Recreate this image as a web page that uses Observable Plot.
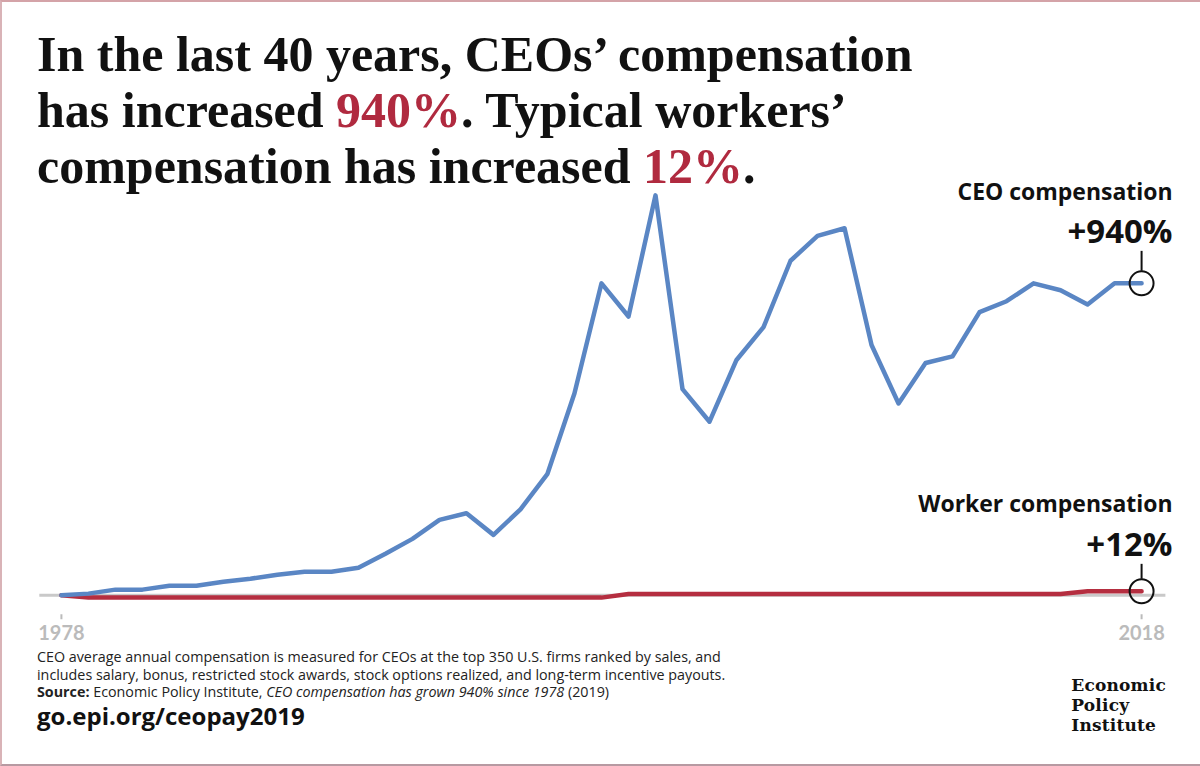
<!DOCTYPE html>
<html>
<head>
<meta charset="utf-8">
<script src="https://cdn.jsdelivr.net/npm/d3@7"></script>
<script src="https://cdn.jsdelivr.net/npm/@observablehq/plot@0.6"></script>
<style>
  html, body { margin: 0; padding: 0; background: #fff; }
  #page { position: relative; width: 1200px; height: 766px; overflow: hidden; background: #fff;
          box-sizing: border-box; border-top: 2px solid #d4a3a8; border-left: 2px solid #d9b3b7; border-bottom: 2px solid #b79aa2; }
  .title { position: absolute; left: 35px; top: 24px; font-family: "Liberation Serif", serif; font-weight: bold;
           font-size: 50px; line-height: 56px; color: #111; white-space: nowrap; }
  .title .hl { color: #b02a3f; }
  #chart { position: absolute; left: -2px; top: 168px; }
  .note { position: absolute; left: 35px; top: 646px; font-family: "Open Sans", sans-serif; font-size: 14.3px; line-height: 17.5px; color: #222; white-space: nowrap; }
  .url { position: absolute; left: 35px; top: 698px; font-family: "Open Sans", sans-serif; font-weight: bold; font-size: 24px; line-height: 32px; color: #111; }
  .logo { position: absolute; right: 34px; top: 673px; font-family: "DejaVu Serif", serif; font-weight: bold; font-size: 17px; line-height: 20px; color: #111; letter-spacing: 0.2px; }
</style>
</head>
<body>
<div id="page">
  <div class="title">In the last 40 years, CEOs’ compensation<br>has increased <span class="hl">940%</span>. Typical workers’<br>compensation has increased <span class="hl">12%</span>.</div>
  <div id="chart"></div>
  <div class="note">CEO average annual compensation is measured for CEOs at the top 350 U.S. firms ranked by sales, and<br>includes salary, bonus, restricted stock awards, stock options realized, and long-term incentive payouts.<br><b>Source:</b> Economic Policy Institute, <i>CEO compensation has grown 940% since 1978</i> (2019)</div>
  <div class="url">go.epi.org/ceopay2019</div>
  <div class="logo">Economic<br>Policy<br>Institute</div>
</div>
<script>
// Years 1978–2018
const years = [1978,1979,1980,1981,1982,1983,1984,1985,1986,1987,1988,1989,1990,1991,1992,1993,1994,1995,1996,1997,1998,
               1999,2000,2001,2002,2003,2004,2005,2006,2007,2008,2009,2010,2011,2012,2013,2014,2015,2016,2017,2018];
// Cumulative % change since 1978, CEO compensation
const ceoGrowth = [0,5,17,17,29,29,41,50,62,71,71,83,125,170,227,247,182,259,366,609,940,
                   840,1205,621,523,709,808,1008,1083,1106,754,578,700,720,853,886,940,919,876,940,940];
// Cumulative % change since 1978, typical worker compensation
const workerGrowth = [0,-7,-7,-7,-7,-7,-7,-7,-7,-7,-7,-7,-7,-7,-7,-7,-7,-7,-7,-7,-7,
                      4,4,4,4,4,4,4,4,4,4,4,4,4,4,4,4,4,12,12,12];
const xTicks = [1978, 2018];
const seriesNames = ["CEO compensation", "Worker compensation"];
const endLabels = ["+940%", "+12%"];

const ceo = years.map((year, i) => ({year, value: ceoGrowth[i]}));
const worker = years.map((year, i) => ({year, value: workerGrowth[i]}));
const last = years.length - 1;
const ends = [
  {year: years[last], value: ceoGrowth[last], name: seriesNames[0], label: endLabels[0]},
  {year: years[last], value: workerGrowth[last], name: seriesNames[1], label: endLabels[1]}
];
const ceoEnd = [ends[0]];
const workerEnd = [ends[1]];

const blue = "#5a86c4";
const red = "#b52e40";
const font = "'Open Sans', sans-serif";

function endLabelMarks(rows, nameDy, valueDy) {
  return [
    Plot.text(rows, {x: "year", y: "value", text: "label", dx: 31, dy: valueDy, textAnchor: "end", fontSize: 33, fontWeight: "bold",
                     fontFamily: font, fill: "#111", lineAnchor: "bottom"}),
    Plot.text(rows, {x: "year", y: "value", text: "name", dx: 31, dy: nameDy, textAnchor: "end", fontSize: 23, fontWeight: "bold",
                     fontFamily: font, fill: "#111", lineAnchor: "bottom"})
  ];
}

const chart = Plot.plot({
  width: 1202,
  height: 490,
  marginLeft: 61,
  marginRight: 59,
  marginTop: 0,
  marginBottom: 45,
  style: {background: "transparent", overflow: "visible"},
  x: {domain: [1978, 2018], label: null},
  y: {domain: [0, 940], range: [425.5, 113], axis: null, label: null},
  marks: [
    Plot.ruleY([0], {x1: 1977.2, x2: 2018.9, stroke: "#c9c9c9", strokeWidth: 3}),
    Plot.lineY(worker, {x: "year", y: "value", stroke: red, strokeWidth: 4.5, curve: "linear"}),
    Plot.lineY(ceo, {x: "year", y: "value", stroke: blue, strokeWidth: 4.5, curve: "linear"}),
    Plot.dot(ends, {x: "year", y: "value", r: 12, stroke: "#111", strokeWidth: 2, fill: "none"}),
    Plot.ruleX(ceoEnd, {x: "year", y1: "value", y2: "value", insetTop: -32, insetBottom: 12, stroke: "#111", strokeWidth: 2}),
    Plot.ruleX(workerEnd, {x: "year", y1: "value", y2: "value", insetTop: -27, insetBottom: 12, stroke: "#111", strokeWidth: 2}),
    ...endLabelMarks(ceoEnd, -83, -40),
    ...endLabelMarks(workerEnd, -79, -35),
    Plot.axisX({ticks: xTicks, tickFormat: d => String(d), tickSize: 5, tickPadding: 6, stroke: "#bbb", color: "#bbb",
                fontSize: 20, fontWeight: "bold", fontFamily: "Lato, sans-serif", label: null, strokeWidth: 2})
  ]
});
document.getElementById("chart").appendChild(chart);
</script>
</body>
</html>
